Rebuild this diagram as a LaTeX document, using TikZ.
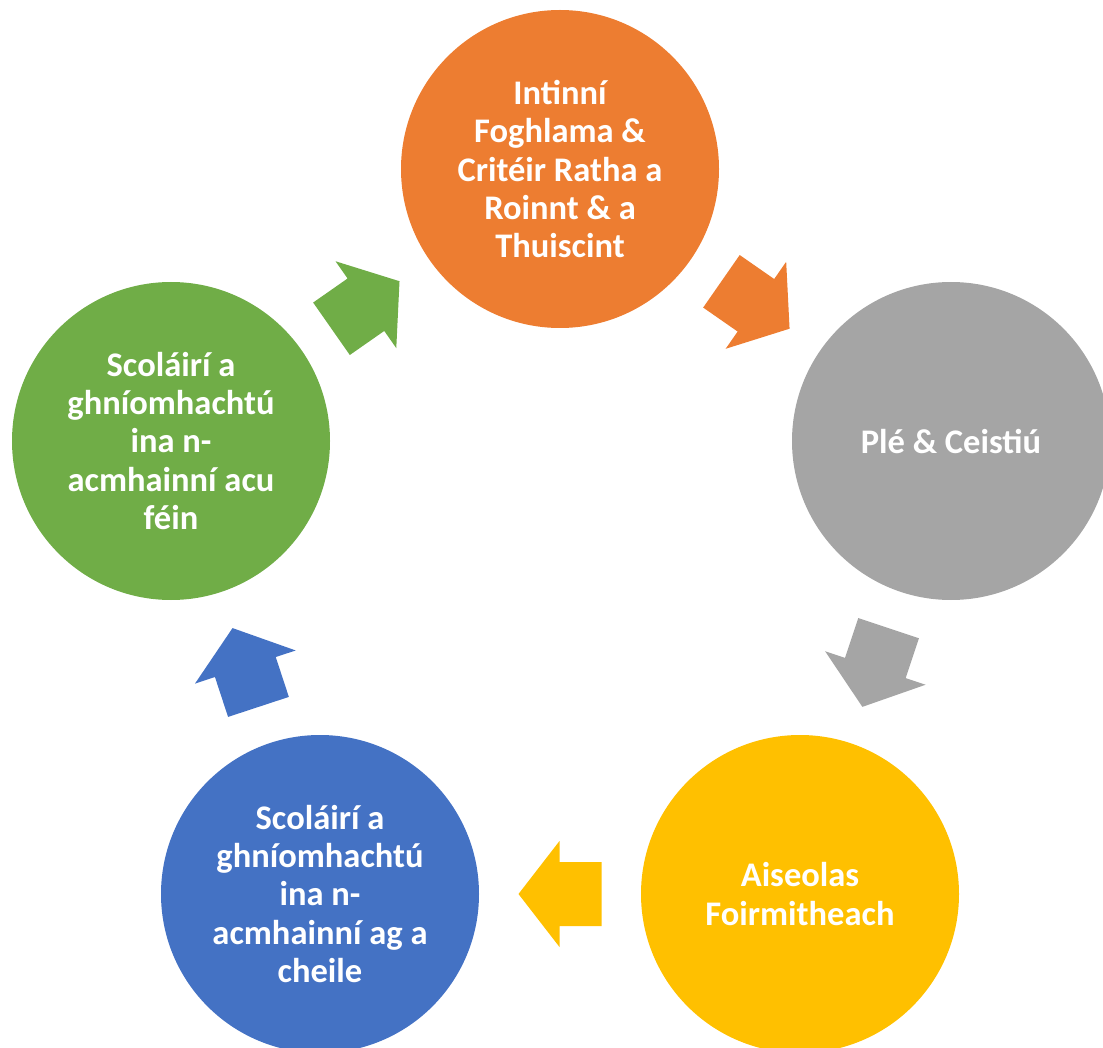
\documentclass[tikz,border=0pt]{standalone}
\usepackage{fontspec}
\setmainfont{Carlito}
\usetikzlibrary{calc}
\definecolor{cOrange}{HTML}{ED7D31}
\definecolor{cGray}{HTML}{A5A5A5}
\definecolor{cYellow}{HTML}{FFC000}
\definecolor{cBlue}{HTML}{4472C4}
\definecolor{cGreen}{HTML}{70AD47}
\newcommand\blockarr[3]{%
  \coordinate (m#1#2) at ($(#1.center)!0.5!(#2.center)$);
  \coordinate (t#1#2) at ($(m#1#2)!-41.5pt!(#2.center)$);
  \coordinate (h#1#2) at ($(m#1#2)!0.5pt!(#2.center)$);
  \coordinate (p#1#2) at ($(m#1#2)!41.5pt!(#2.center)$);
  \fill[#3] ($(t#1#2)!32pt!90:(#2.center)$) -- ($(h#1#2)!32pt!90:(#2.center)$)
    -- ($(h#1#2)!53pt!90:(#2.center)$) -- (p#1#2)
    -- ($(h#1#2)!53pt!-90:(#2.center)$) -- ($(h#1#2)!32pt!-90:(#2.center)$)
    -- ($(t#1#2)!32pt!-90:(#2.center)$) -- cycle;
}
\tikzset{
  stage/.style={circle, minimum size=318pt, inner sep=0pt, fill=#1, text=white,
    align=center, font=\fontsize{34.5}{38.3}\selectfont\bfseries}
}
\begin{document}
\begin{tikzpicture}[x=1pt,y=-1pt]
\useasboundingbox (0,0) rectangle (1103,1048);
\clip (0,0) rectangle (1103,1048);
\node[stage=cOrange] (A) at (560,169) {Intinní\\Foghlama \&\\Critéir Ratha a\\Roinnt \& a\\Thuiscint};
\node[stage=cGray] (B) at (951,441) {Plé \& Ceistiú};
\node[stage=cYellow] (C) at (800,894) {Aiseolas\\Foirmitheach};
\node[stage=cBlue] (D) at (320,894) {Scoláirí a\\ghníomhachtú\\ina n-\\acmhainní ag a\\cheile};
\node[stage=cGreen] (E) at (171,441) {Scoláirí a\\ghníomhachtú\\ina n-\\acmhainní acu\\féin};
\blockarr{A}{B}{cOrange}
\blockarr{B}{C}{cGray}
\blockarr{C}{D}{cYellow}
\blockarr{D}{E}{cBlue}
\blockarr{E}{A}{cGreen}
\end{tikzpicture}
\end{document}
